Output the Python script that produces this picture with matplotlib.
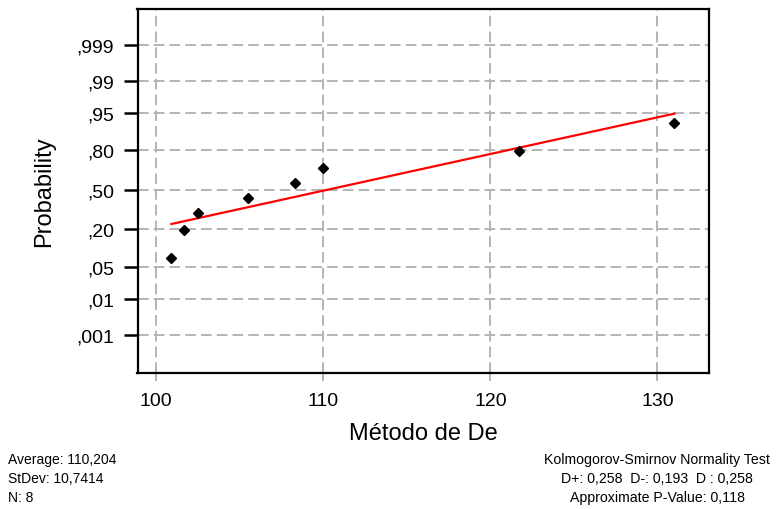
from statistics import NormalDist

import numpy as np
import matplotlib
matplotlib.use("Agg")
import matplotlib.pyplot as plt

# data
values = [100.91, 101.69, 102.49, 105.52, 108.33, 110.00, 121.70, 131.02]
probs = [0.074, 0.198, 0.313, 0.431, 0.560, 0.681, 0.796, 0.923]
fit_x = [100.91, 131.02]
fit_p = [0.234, 0.948]
prob_ticks = [0.001, 0.01, 0.05, 0.20, 0.50, 0.80, 0.95, 0.99, 0.999]
prob_labels = [",001", ",01", ",05", ",20", ",50", ",80", ",95", ",99", ",999"]
x_ticks = [100, 110, 120, 130]
stats_left = ["Average: 110,204", "StDev: 10,7414", "N: 8"]
stats_right = ["Kolmogorov-Smirnov Normality Test",
               "D+: 0,258  D-: 0,193  D : 0,258",
               "Approximate P-Value: 0,118"]

nd = NormalDist()
_ppf = np.vectorize(lambda p: nd.inv_cdf(min(max(p, 1e-9), 1 - 1e-9)),
                    otypes=[float])
_cdf = np.vectorize(nd.cdf, otypes=[float])


def fwd(p):
    return _ppf(np.asarray(p, dtype=float))


def inv(z):
    return _cdf(np.asarray(z, dtype=float))


plt.rcParams['font.family'] = ['Liberation Sans', 'DejaVu Sans']
narrow = ['Liberation Sans Narrow', 'Liberation Sans', 'DejaVu Sans']

fig = plt.figure(figsize=(7.76, 5.10), dpi=100)
ax = fig.add_axes([137.5 / 776, 1 - 374 / 510, 571.5 / 776, 364.5 / 510])

ax.set_yscale('function', functions=(fwd, inv))
ax.set_ylim(nd.cdf(-3.90), nd.cdf(3.865))
ax.set_xlim(98.88, 133.09)

grid_kw = dict(color='#b4b4b4', lw=1.4, dashes=(5.5, 2.6))
for t in prob_ticks:
    ax.axhline(t, zorder=1, **grid_kw)
for t in x_ticks:
    ax.axvline(t, zorder=1, **grid_kw)

ax.plot(fit_x, fit_p, color='red', lw=1.6, zorder=3)
ax.plot(values, probs, 'D', color='black', ms=4.8, zorder=4)

ax.set_yticks(prob_ticks)
ax.set_yticklabels(prob_labels)
ax.yaxis.set_minor_locator(matplotlib.ticker.NullLocator())
ax.set_xticks(x_ticks)
ax.set_xticklabels([str(t) for t in x_ticks])
ax.tick_params(axis='y', direction='out', length=10, width=1.8, color='black',
               labelsize=14, pad=7)
ax.tick_params(axis='x', direction='out', length=6, width=1.4, color='#b4b4b4',
               labelsize=14, pad=8)

for s in ax.spines.values():
    s.set_linewidth(1.6)
    s.set_color('black')

ax.set_ylabel("Probability", fontsize=17, labelpad=15)
ax.set_xlabel("Método de De", fontsize=17, labelpad=9)

for i, line in enumerate(stats_left):
    fig.text(8 / 776, 1 - (460 + 19 * i) / 510, line, family=narrow,
             fontsize=10, ha='left', va='center')
for i, line in enumerate(stats_right):
    fig.text(657 / 776, 1 - (460 + 19 * i) / 510, line, family=narrow,
             fontsize=10.2, ha='center', va='center')

fig.savefig("out.png", dpi=100)
